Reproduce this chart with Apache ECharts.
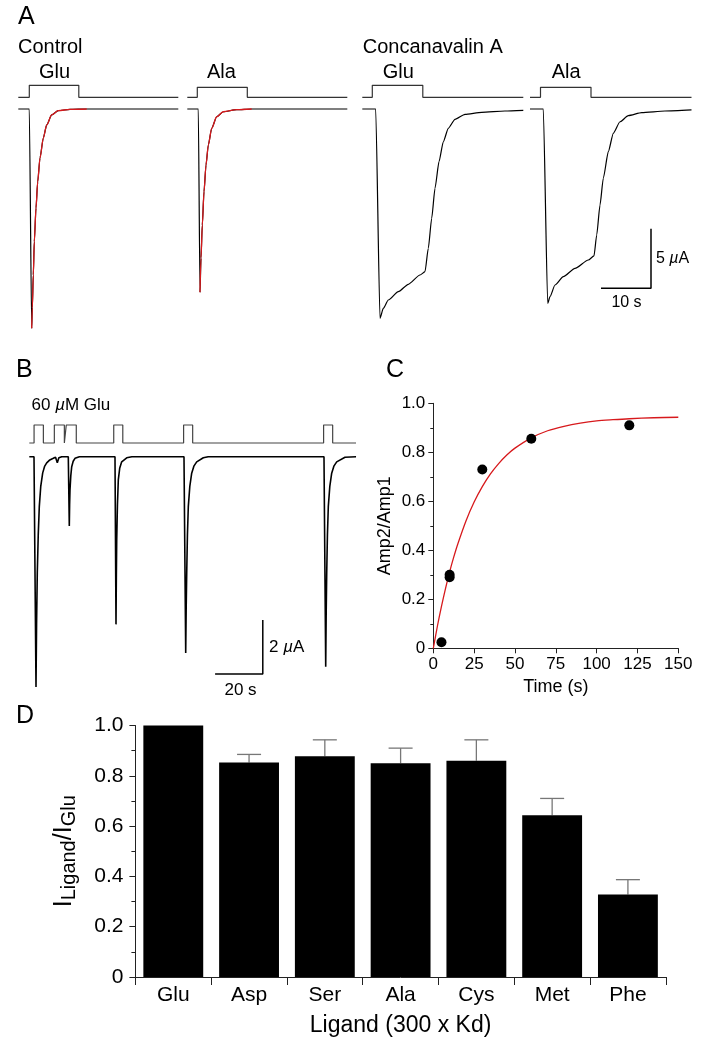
<!DOCTYPE html>
<html>
<head>
<meta charset="utf-8">
<script src="https://cdn.jsdelivr.net/npm/echarts@6/dist/echarts.min.js"></script>
<style>html,body{margin:0;padding:0;background:#fff}#c{width:710px;height:1049px}</style>
</head>
<body>
<div id="c"></div>
<script>
const FONT = "'Liberation Sans', Arial, Helvetica, sans-serif";

// ---------- Panel A (time in s from sweep start, current in µA) ----------
const aPulseOn  = [2.2, 2.0, 2.0, 2.1];
const aPulseOff = [12.1, 12.0, 12.1, 12.2];
const aSweepEnd = [32.0, 32.0, 32.2, 32.3];
const aCtrlGlu = [[0,0],[2.2,0],[2.68,-18.43],[2.8,-16.72],[3.0,-13.95],[3.2,-11.15],[3.54,-8.32],[3.88,-6.11],[4.34,-4.12],[5.0,-2.44],[5.68,-1.34],[6.68,-0.50],[8.0,-0.14],[10.34,-0.03],[13.68,0],[32.0,0]];
const aCtrlGluFit = [[2.68,-18.43],[2.8,-16.72],[3.0,-13.95],[3.2,-11.15],[3.54,-8.32],[3.88,-6.11],[4.34,-4.12],[5.0,-2.44],[5.68,-1.34],[6.68,-0.50],[8.0,-0.14],[10.34,-0.03],[13.68,0]];
const aCtrlAla = [[0,0],[2.2,0],[2.54,-15.40],[2.74,-12.52],[3.0,-9.75],[3.34,-6.95],[3.74,-4.71],[4.2,-3.03],[4.88,-1.62],[5.88,-0.65],[7.2,-0.23],[9.88,-0.06],[12.88,0],[32.0,0]];
const aCtrlAlaFit = [[2.54,-15.40],[2.74,-12.52],[3.0,-9.75],[3.34,-6.95],[3.74,-4.71],[4.2,-3.03],[4.88,-1.62],[5.88,-0.65],[7.2,-0.23],[9.88,-0.06],[12.88,0]];
const aConAGlu = [[0,0],[2.68,0],[3.54,-17.59],[4.2,-16.75],[5.2,-16.05],[7.2,-15.35],[9.2,-14.73],[11.54,-13.95],[12.54,-13.67],[13.2,-11.71],[13.88,-9.18],[14.54,-6.66],[15.34,-4.43],[16.2,-2.75],[17.2,-1.62],[18.54,-0.87],[20.54,-0.45],[23.88,-0.28],[28.54,-0.17],[32.2,-0.11]];
const aConAAla = [[0,0],[2.66,0],[3.54,-16.33],[4.0,-15.77],[5.0,-14.79],[6.66,-14.09],[9.0,-13.39],[11.66,-12.69],[12.8,-12.35],[13.34,-10.59],[14.0,-8.07],[14.66,-5.82],[15.66,-3.59],[16.66,-2.04],[18.0,-1.07],[19.66,-0.56],[22.34,-0.31],[27.0,-0.17],[32.3,-0.08]];
const aScaleBar = {t: 24.2, i: -15.07, dt: 10, di: 5};

// ---------- Panel B ----------
const bPulseOn  = [2.0, 10.5, 15.5, 35.4, 64.7, 123.4];
const bPulseOff = [5.9, 14.7, 19.7, 39.2, 68.5, 127.2];
const bSweepEnd = 137;
const bCurrent = [[0,0],[1.97,0],[2.81,-8.53],[3.05,-6.2],[3.35,-4.31],[3.75,-2.9],[4.19,-1.85],[4.8,-1.1],[5.62,-0.60],[6.4,-0.36],[7.3,-0.23],[8.6,-0.12],[10.06,-0.06],[11.0,-0.02],[11.74,-0.22],[12.4,-0.04],[13.6,0],
  [16.35,0],[16.77,-2.57],[16.9,-1.8],[17.06,-1.23],[17.4,-0.7],[17.78,-0.37],[18.4,-0.17],[19.16,-0.06],[21,0],
  [35.93,0],[36.35,-6.21],[36.5,-4.4],[36.65,-3.09],[36.95,-1.8],[37.32,-0.86],[37.9,-0.43],[38.74,-0.19],[40.84,-0.04],[43,0],
  [64.86,0],[65.58,-7.27],[65.78,-5.6],[66.0,-4.32],[66.3,-2.9],[66.67,-1.85],[67.3,-1.1],[68.09,-0.61],[69.0,-0.35],[70.19,-0.19],[72.96,-0.04],[75,0],
  [123.56,0],[124.28,-7.78],[124.48,-5.8],[124.7,-4.32],[125.0,-2.9],[125.37,-1.85],[126.0,-1.1],[126.79,-0.61],[127.7,-0.35],[128.89,-0.19],[132.37,-0.02],[137,0]];
const bScaleBar = {t: 97.9, i: -8.05, dt: 20, di: 2};

// ---------- Panel C ----------
const cTime  = [5, 10, 10, 30, 60, 120];
const cRatio = [0.025, 0.29, 0.30, 0.73, 0.855, 0.91];
const cFitTime  = [0, 2.5, 5, 7.5, 10, 12.5, 15, 20, 25, 30, 35, 40, 45, 50, 60, 70, 80, 90, 100, 110, 120, 135, 150];
const cFitRatio = [0, 0.090, 0.171, 0.245, 0.312, 0.372, 0.426, 0.520, 0.597, 0.660, 0.712, 0.754, 0.789, 0.817, 0.859, 0.888, 0.906, 0.919, 0.928, 0.933, 0.937, 0.941, 0.943];

// ---------- Panel D ----------
const dLigands = ['Glu', 'Asp', 'Ser', 'Ala', 'Cys', 'Met', 'Phe'];
const dMean = [1.0, 0.853, 0.878, 0.85, 0.86, 0.643, 0.328];
const dSem  = [0, 0.032, 0.065, 0.06, 0.083, 0.067, 0.059];

// ---------- building ----------
const grids = [], xAxes = [], yAxes = [], series = [];
function traceGrid(leftPx, zeroYPx, pxPerX, pxPerY, tMax, yMin, yMax) {
  const idx = grids.length;
  grids.push({left: leftPx, top: zeroYPx - yMax * pxPerY, width: tMax * pxPerX, height: (yMax - yMin) * pxPerY, outerBoundsMode: 'none', containLabel: false});
  xAxes.push({type: 'value', gridIndex: idx, min: 0, max: tMax, show: false});
  yAxes.push({type: 'value', gridIndex: idx, min: yMin, max: yMax, show: false});
  return idx;
}
function lineSeries(g, data, color, width, smooth) {
  series.push({type: 'line', xAxisIndex: g, yAxisIndex: g, data: data, symbol: 'none', showSymbol: false,
    smooth: smooth || false, smoothMonotone: 'x', clip: false, silent: true,
    lineStyle: {color: color, width: width}});
}
function stepData(on, off, end) {
  return [[0,0],[on,0],[on,1],[off,1],[off,0],[end,0]];
}

// Panel A
const A_PX_PER_S = 5, A_PX_PER_UA = 11.9;
const aLeft = [18.3, 187.3, 362.3, 530];
const aStimPx = [12, 10, 12, 10];
const aTraces = [aCtrlGlu, aCtrlAla, aConAGlu, aConAAla];
const aFits = [aCtrlGluFit, aCtrlAlaFit, null, null];
let aLastGrid = 0;
for (let k = 0; k < 4; k++) {
  const gs = traceGrid(aLeft[k], 97.3, A_PX_PER_S, aStimPx[k], aSweepEnd[k], -0.2, 1.2);
  lineSeries(gs, stepData(aPulseOn[k], aPulseOff[k], aSweepEnd[k]), '#333', 1.2);
  const gc = traceGrid(aLeft[k], 109, A_PX_PER_S, A_PX_PER_UA, aSweepEnd[k], -19.5, 0.6);
  lineSeries(gc, aTraces[k], '#000', 1.2, 0.2);
  if (aFits[k]) lineSeries(gc, aFits[k], '#d7191c', 1.3, 0.3);
  aLastGrid = gc;
}
lineSeries(aLastGrid, [[aScaleBar.t - aScaleBar.dt, aScaleBar.i], [aScaleBar.t, aScaleBar.i], [aScaleBar.t, aScaleBar.i + aScaleBar.di]], '#000', 1.5);

// Panel B
const B_PX_PER_S = 2.385, B_PX_PER_UA = 27;
const bStimData = [[0,0]];
for (let k = 0; k < bPulseOn.length; k++) {
  bStimData.push([bPulseOn[k],0],[bPulseOn[k],1],[bPulseOff[k],1],[bPulseOff[k],0]);
}
bStimData.push([bSweepEnd,0]);
const gbs = traceGrid(29.3, 443, B_PX_PER_S, 18, bSweepEnd, -0.2, 1.2);
lineSeries(gbs, bStimData, '#444', 1.2);
const gbc = traceGrid(29.3, 456.7, B_PX_PER_S, B_PX_PER_UA, bSweepEnd, -8.9, 0.3);
lineSeries(gbc, bCurrent, '#000', 1.6, false);
lineSeries(gbc, [[bScaleBar.t - bScaleBar.dt, bScaleBar.i], [bScaleBar.t, bScaleBar.i], [bScaleBar.t, bScaleBar.i + bScaleBar.di]], '#000', 1.5);

// Panel C
const axisCommon = {
  axisLine: {show: true, lineStyle: {color: '#222', width: 1}},
  axisTick: {show: true, inside: false, length: 5, lineStyle: {color: '#222'}},
  splitLine: {show: false}
};
const gC = grids.length;
grids.push({left: 433.3, top: 403.3, width: 245, height: 245, outerBoundsMode: 'none', containLabel: false});
xAxes.push(Object.assign({}, axisCommon, {
  type: 'value', gridIndex: gC, min: 0, max: 150, interval: 25,
  axisLabel: {fontFamily: FONT, fontSize: 17, color: '#000', margin: 8},
  name: 'Time (s)', nameLocation: 'middle', nameGap: 30,
  nameTextStyle: {fontFamily: FONT, fontSize: 18, color: '#000'}
}));
yAxes.push(Object.assign({}, axisCommon, {
  type: 'value', gridIndex: gC, min: 0, max: 1, interval: 0.2,
  minorTick: {show: true, splitNumber: 2, length: 3, lineStyle: {color: '#222'}},
  axisLabel: {fontFamily: FONT, fontSize: 17, color: '#000', margin: 8, formatter: v => v === 0 ? '0' : v.toFixed(1)},
  name: 'Amp2/Amp1', nameLocation: 'middle', nameRotate: 90, nameGap: 39,
  nameTextStyle: {fontFamily: FONT, fontSize: 18, color: '#000'}
}));
series.push({type: 'line', xAxisIndex: gC, yAxisIndex: gC, data: cFitTime.map((t, i) => [t, cFitRatio[i]]),
  symbol: 'none', smooth: 0.3, lineStyle: {color: '#d7191c', width: 1.3}, silent: true, z: 2});
series.push({type: 'scatter', xAxisIndex: gC, yAxisIndex: gC, data: cTime.map((t, i) => [t, cRatio[i]]),
  symbol: 'circle', symbolSize: 10, itemStyle: {color: '#000', opacity: 1}, silent: true, z: 3});

// Panel D
const gD = grids.length;
grids.push({left: 135.4, top: 725.5, width: 530.4, height: 251.5, outerBoundsMode: 'none', containLabel: false});
xAxes.push({
  type: 'category', gridIndex: gD, data: dLigands,
  axisLine: {show: true, lineStyle: {color: '#222', width: 1}},
  axisTick: {show: true, inside: false, length: 8, alignWithLabel: false, lineStyle: {color: '#222'}},
  axisLabel: {fontFamily: FONT, fontSize: 21, color: '#000', margin: 8, interval: 0},
  name: 'Ligand (300 x Kd)', nameLocation: 'middle', nameGap: 37,
  nameTextStyle: {fontFamily: FONT, fontSize: 23, color: '#000'}
});
yAxes.push({
  type: 'value', gridIndex: gD, min: 0, max: 1, interval: 0.2,
  axisLine: {show: true, lineStyle: {color: '#222', width: 1}},
  axisTick: {show: true, inside: false, length: 6, lineStyle: {color: '#222'}},
  minorTick: {show: true, splitNumber: 2, length: 4, lineStyle: {color: '#222'}},
  splitLine: {show: false},
  axisLabel: {fontFamily: FONT, fontSize: 21, color: '#000', margin: 12, formatter: v => v === 0 ? '0' : v.toFixed(1)},
  name: '{i|I}{s|Ligand}{i|/I}{s|Glu}', nameLocation: 'middle', nameRotate: 90, nameGap: 56,
  nameTextStyle: {
    color: '#000',
    rich: {
      i: {fontFamily: FONT, fontSize: 25, lineHeight: 30, color: '#000'},
      s: {fontFamily: FONT, fontSize: 20, lineHeight: 18, verticalAlign: 'bottom', color: '#000'}
    }
  }
});
series.push({type: 'bar', xAxisIndex: gD, yAxisIndex: gD, data: dMean, barCategoryGap: '21%',
  itemStyle: {color: '#000'}, silent: true, z: 2});
series.push({type: 'custom', xAxisIndex: gD, yAxisIndex: gD, silent: true, z: 1,
  data: dLigands.map((l, i) => [i, dMean[i], dSem[i]]),
  encode: {x: 0, y: 1},
  renderItem: function (params, api) {
    const i = api.value(0), m = api.value(1), e = api.value(2);
    if (!e) return null;
    const base = api.coord([i, m]);
    const top = api.coord([i, m + e]);
    const half = 12;
    const st = {stroke: '#777', lineWidth: 1.3};
    return {type: 'group', children: [
      {type: 'line', shape: {x1: base[0], y1: base[1], x2: top[0], y2: top[1]}, style: st},
      {type: 'line', shape: {x1: top[0] - half, y1: top[1], x2: top[0] + half, y2: top[1]}, style: st}
    ]};
  }
});

// Text annotations
function txt(x, y, text, size, align, rich) {
  const st = {text: text, fontFamily: FONT, fontSize: size, fill: '#000', align: align || 'left', verticalAlign: 'middle'};
  if (rich) st.rich = rich;
  return {type: 'text', x: x, y: y, style: st, silent: true};
}
const itRich = (size) => ({it: {fontFamily: FONT, fontSize: size, fontStyle: 'italic', fill: '#000'}});
const graphic = [
  txt(18, 17, 'A', 25),
  txt(18, 47, 'Control', 20),
  txt(39, 72, 'Glu', 20),
  txt(207, 72, 'Ala', 20),
  txt(362.7, 47, 'Concanavalin A', 20),
  txt(382.7, 72, 'Glu', 20),
  txt(551.7, 72, 'Ala', 20),
  txt(656, 259, '5 {it|µ}A', 16, 'left', itRich(16)),
  txt(626.5, 303, '10 s', 16, 'center'),
  txt(16, 370, 'B', 25),
  txt(31.5, 405, '60 {it|µ}M Glu', 17, 'left', itRich(17)),
  txt(269, 647, '2 {it|µ}A', 17, 'left', itRich(17)),
  txt(240.5, 690, '20 s', 17, 'center'),
  txt(386, 370, 'C', 25),
  txt(16, 716, 'D', 25)
];

const chart = echarts.init(document.getElementById('c'), null, {renderer: 'canvas'});
chart.setOption({
  backgroundColor: '#fff',
  animation: false,
  grid: grids,
  xAxis: xAxes,
  yAxis: yAxes,
  series: series,
  graphic: graphic
});
</script>
</body>
</html>
